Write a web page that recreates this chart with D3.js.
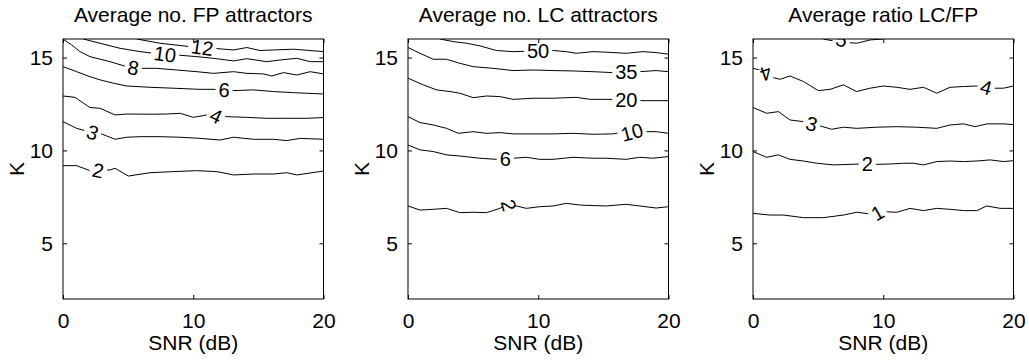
<!DOCTYPE html>
<html>
<head>
<meta charset="utf-8">
<script src="https://cdn.jsdelivr.net/npm/d3@7"></script>
<style>
body { margin: 0; background: #fff; }
text { font-family: "Liberation Sans", Arial, Helvetica, sans-serif; fill: #000; }
</style>
</head>
<body>
<script>
// chart values
var titles = ["Average no. FP attractors", "Average no. LC attractors", "Average ratio LC/FP"]
var snrTicks = [0, 10, 20]
var kTicks = [5, 10, 15]
var snrDomain = [0, 20], kDomain = [2, 16]

// contour lines, [SNR, K]
var fpContours = [
  {level: 12, pts: [[5.66,16.0],[7.45,15.77],[9.76,15.59],[11.55,15.50],[13.09,15.41],[14.11,15.54],[15.13,15.38],[16.16,15.41],[17.70,15.45],[20,15.32]]},
  {level: 10, pts: [[1.56,16.0],[2.84,15.77],[4.38,15.50],[5.92,15.32],[6.94,15.23],[8.73,15.14],[10.27,15.05],[11.55,14.96],[13.09,14.82],[14.11,14.94],[15.65,14.78],[16.67,14.87],[17.95,14.96],[18.98,14.78],[20,14.78]]},
  {level: 8, pts: [[0,16.0],[0.67,15.68],[1.31,15.32],[2.07,15.05],[3.61,14.78],[4.89,14.51],[5.92,14.42],[7.20,14.42],[8.73,14.33],[10.27,14.24],[11.55,14.15],[13.09,14.24],[14.11,14.15],[15.39,14.12],[16.03,14.01],[16.93,14.19],[17.95,14.06],[18.98,14.24],[20,14.12]]},
  {level: 6, pts: [[0,14.51],[1.05,14.24],[2.07,13.97],[2.84,13.80],[3.87,13.62],[4.89,13.47],[6.68,13.40],[8.48,13.35],[10.52,13.29],[11.81,13.29],[13.09,13.22],[14.62,13.26],[16.16,13.17],[17.70,13.11],[20,13.04]]},
  {level: 4, pts: [[0,12.93],[0.92,12.86],[2.07,12.31],[2.84,12.27],[4.0,11.91],[4.89,11.96],[6.68,11.95],[7.96,11.96],[8.99,12.0],[10.01,11.78],[11.04,11.91],[12.57,11.82],[14.11,11.78],[15.65,11.73],[17.18,11.73],[18.72,11.73],[20,11.77]]},
  {level: 3, pts: [[0,11.55],[1.05,11.19],[1.95,11.01],[2.84,10.92],[4.0,10.60],[4.89,10.71],[5.92,10.74],[7.45,10.74],[8.99,10.71],[10.52,10.65],[12.06,10.56],[13.09,10.71],[14.62,10.60],[16.16,10.60],[17.18,10.53],[18.21,10.65],[20,10.60]]},
  {level: 2, pts: [[0,9.18],[1.05,9.18],[2.07,8.91],[3.61,8.95],[4.0,9.04],[5.02,8.62],[6.68,8.80],[8.48,8.86],[10.27,8.91],[11.81,8.86],[13.09,8.68],[14.62,8.73],[16.16,8.73],[17.18,8.80],[17.95,8.68],[20,8.89]]}
]
var fpLabels = [
  {level: 12, snr: 10.7, rot: 8},
  {level: 10, snr: 7.84, rot: 8},
  {level: 8, snr: 5.40, rot: 10},
  {level: 6, snr: 12.37, rot: 3},
  {level: 4, snr: 11.75, rot: 25},
  {level: 3, snr: 2.28, rot: 20},
  {level: 2, snr: 2.71, rot: 12}
]

var lcContours = [
  {level: 50, pts: [[2.45,16.0],[3.47,15.86],[4.50,15.77],[5.52,15.63],[6.79,15.38],[8.07,15.32],[11.14,15.38],[12.16,15.32],[12.92,15.23],[14.20,15.32],[15.22,15.29],[16.76,15.23],[18.03,15.32],[19.05,15.27],[20,15.18]]},
  {level: 35, pts: [[0,15.54],[0.92,15.23],[1.94,14.91],[2.96,14.91],[3.98,14.69],[5.01,14.51],[6.54,14.42],[8.07,14.30],[9.60,14.33],[11.14,14.30],[12.67,14.28],[14.20,14.24],[15.73,14.19],[17.78,14.24],[19.05,14.30],[20,14.24]]},
  {level: 20, pts: [[0,13.89],[1.17,13.53],[2.20,13.26],[3.22,13.17],[3.98,13.08],[5.01,12.84],[6.03,12.93],[7.05,12.90],[8.07,12.75],[9.60,12.81],[11.14,12.81],[12.92,12.86],[13.95,12.75],[15.73,12.75],[17.78,12.68],[20,12.68]]},
  {level: 10, pts: [[0,11.82],[0.92,11.50],[1.94,11.37],[2.96,11.19],[3.86,10.92],[5.01,11.01],[6.03,10.92],[7.05,10.96],[8.07,10.89],[9.60,10.89],[11.14,10.89],[12.67,10.92],[14.20,10.87],[15.73,10.89],[16.24,10.96],[18.03,11.01],[19.05,11.01],[20,10.92]]},
  {level: 6, pts: [[0,10.29],[0.92,10.03],[1.94,9.94],[2.96,9.76],[3.98,9.70],[5.52,9.58],[6.79,9.52],[8.07,9.58],[9.09,9.63],[10.11,9.52],[11.14,9.52],[12.67,9.63],[14.20,9.58],[15.22,9.58],[16.76,9.52],[17.78,9.63],[18.80,9.58],[20,9.67]]},
  {level: 2, pts: [[0,7.01],[0.92,6.79],[1.94,6.83],[2.96,6.88],[3.98,6.65],[5.01,6.67],[6.03,6.65],[7.05,6.88],[7.56,7.06],[8.33,7.01],[9.09,6.88],[10.11,6.97],[11.14,7.01],[12.16,7.15],[13.18,7.06],[14.20,7.03],[15.22,7.01],[16.76,7.10],[17.78,7.01],[19.05,6.90],[20,6.97]]}
]
var lcLabels = [
  {level: 50, snr: 9.99, rot: 0},
  {level: 35, snr: 16.76, rot: 0},
  {level: 20, snr: 16.76, rot: 0},
  {level: 10, snr: 17.19, rot: -15},
  {level: 6, snr: 7.48, rot: 0},
  {level: 2, snr: 7.74, rot: 75}
]

var ratioContours = [
  {level: 5, pts: [[5.40,16.0],[6.43,15.86],[7.96,15.77],[8.99,15.95],[10.01,16.0]]},
  {level: 4, pts: [[0,14.42],[0.67,14.30],[1.31,13.97],[2.07,13.83],[2.84,14.01],[3.87,13.71],[5.02,13.22],[5.92,13.29],[6.94,13.53],[7.96,13.17],[8.99,13.35],[10.01,13.47],[11.04,13.40],[12.06,13.29],[13.09,13.40],[14.11,13.08],[15.13,13.40],[16.16,13.44],[17.18,13.47],[18.46,13.35],[19.23,13.35],[20,13.47]]},
  {level: 3, pts: [[0,12.31],[1.05,12.0],[1.95,12.09],[2.84,11.64],[3.87,11.55],[5.15,11.32],[6.04,11.14],[6.94,11.25],[7.96,11.19],[9.50,11.25],[11.04,11.28],[12.57,11.25],[14.11,11.19],[15.13,11.37],[16.16,11.43],[17.06,11.28],[17.95,11.43],[19.23,11.43],[20,11.39]]},
  {level: 2, pts: [[0,9.94],[1.05,9.63],[1.95,9.76],[2.84,9.52],[3.87,9.43],[4.89,9.31],[6.17,9.22],[7.45,9.25],[8.22,9.27],[9.50,9.25],[10.52,9.27],[11.55,9.31],[12.32,9.31],[13.09,9.22],[14.11,9.40],[15.13,9.43],[16.16,9.40],[17.18,9.43],[18.21,9.49],[19.23,9.40],[20,9.45]]},
  {level: 1, pts: [[0,6.61],[1.31,6.52],[2.33,6.52],[3.87,6.38],[5.40,6.38],[6.94,6.52],[7.96,6.67],[8.99,6.58],[10.01,6.70],[11.04,6.67],[12.06,6.88],[13.09,6.76],[14.11,6.88],[15.13,6.83],[16.16,6.76],[17.18,6.76],[17.95,7.01],[18.98,6.88],[20,6.88]]}
]
var ratioLabels = [
  {level: 5, snr: 6.81, k: 15.97, rot: 15},
  {level: 4, snr: 1.0, rot: 160},
  {level: 4, snr: 17.9, rot: 15},
  {level: 3, snr: 4.5, rot: 15},
  {level: 2, snr: 8.78, rot: 0},
  {level: 1, snr: 9.55, rot: -30}
]

var panels = [
  {left: 63, contours: fpContours, labels: fpLabels},
  {left: 408, contours: lcContours, labels: lcLabels},
  {left: 753, contours: ratioContours, labels: ratioLabels}
]
var plotW = 260.5, plotTop = 39, plotBottom = 299

var svg = d3.select("body").append("svg").attr("width", 1029).attr("height", 360)

// K on a contour at a given SNR
function kAt(pts, s) {
  for (var i = 1; i < pts.length; i++) {
    if (s <= pts[i][0]) {
      var a = pts[i-1], b = pts[i]
      var t = (s - a[0]) / (b[0] - a[0])
      return a[1] + t * (b[1] - a[1])
    }
  }
  return pts[pts.length-1][1]
}

panels.forEach(function(p, i) {
  var x = d3.scaleLinear().domain(snrDomain).range([p.left, p.left + plotW])
  var y = d3.scaleLinear().domain(kDomain).range([plotBottom, plotTop])

  svg.append("clipPath").attr("id", "clip" + i)
    .append("rect").attr("x", p.left).attr("y", plotTop).attr("width", plotW).attr("height", plotBottom - plotTop)

  var g = svg.append("g").attr("clip-path", "url(#clip" + i + ")")

  var line = d3.line().x(function(d) { return x(d[0]) }).y(function(d) { return y(d[1]) })

  g.selectAll("path.contour")
    .data(p.contours)
    .join("path")
    .attr("class", "contour")
    .attr("d", function(d) { return line(d.pts) })
    .attr("fill", "none")
    .attr("stroke", "#000")
    .attr("stroke-width", 1)

  p.labels.forEach(function(l) {
    var c = p.contours.find(function(d) { return d.level == l.level })
    var k = l.k != null ? l.k : kAt(c.pts, l.snr)
    var lg = g.append("g")
      .attr("transform", "translate(" + x(l.snr) + "," + y(k) + ") rotate(" + l.rot + ")")
    var rect = lg.append("rect").attr("fill", "#fff")
    var t = lg.append("text")
      .attr("text-anchor", "middle")
      .attr("dy", "0.36em")
      .style("font-size", "20px")
      .text(l.level)
    var bb = t.node().getBBox()
    rect.attr("x", bb.x - 3).attr("y", -6).attr("width", bb.width + 6).attr("height", 12)
  })

  // box
  svg.append("rect")
    .attr("x", p.left).attr("y", plotTop)
    .attr("width", plotW).attr("height", plotBottom - plotTop)
    .attr("fill", "none").attr("stroke", "#000").attr("stroke-width", 1)

  var ax = [
    svg.append("g").attr("transform", "translate(0," + plotBottom + ")")
      .call(d3.axisBottom(x).tickValues(snrTicks).tickSize(-4).tickPadding(14)),
    svg.append("g").attr("transform", "translate(0," + plotTop + ")")
      .call(d3.axisTop(x).tickValues(snrTicks).tickSize(-4).tickFormat("")),
    svg.append("g").attr("transform", "translate(" + p.left + ",0)")
      .call(d3.axisLeft(y).tickValues(kTicks).tickSize(-4).tickPadding(10)),
    svg.append("g").attr("transform", "translate(" + (p.left + plotW) + ",0)")
      .call(d3.axisRight(y).tickValues(kTicks).tickSize(-4).tickFormat(""))
  ]
  ax.forEach(function(a) {
    a.select(".domain").remove()
    a.selectAll("line").attr("stroke", "#000")
    a.selectAll("text").style("font-size", "21px").attr("fill", "#000")
      .style("font-family", "'Liberation Sans', Arial, Helvetica, sans-serif")
  })

  svg.append("text")
    .attr("x", p.left + plotW / 2).attr("y", 22)
    .attr("text-anchor", "middle")
    .style("font-size", "21px")
    .text(titles[i])

  svg.append("text")
    .attr("x", p.left + plotW / 2).attr("y", 350)
    .attr("text-anchor", "middle")
    .style("font-size", "21px")
    .text("SNR (dB)")

  svg.append("text")
    .attr("transform", "translate(" + (p.left - 39) + "," + ((plotTop + plotBottom) / 2) + ") rotate(-90)")
    .attr("text-anchor", "middle")
    .style("font-size", "21px")
    .text("K")
})
</script>
</body>
</html>
